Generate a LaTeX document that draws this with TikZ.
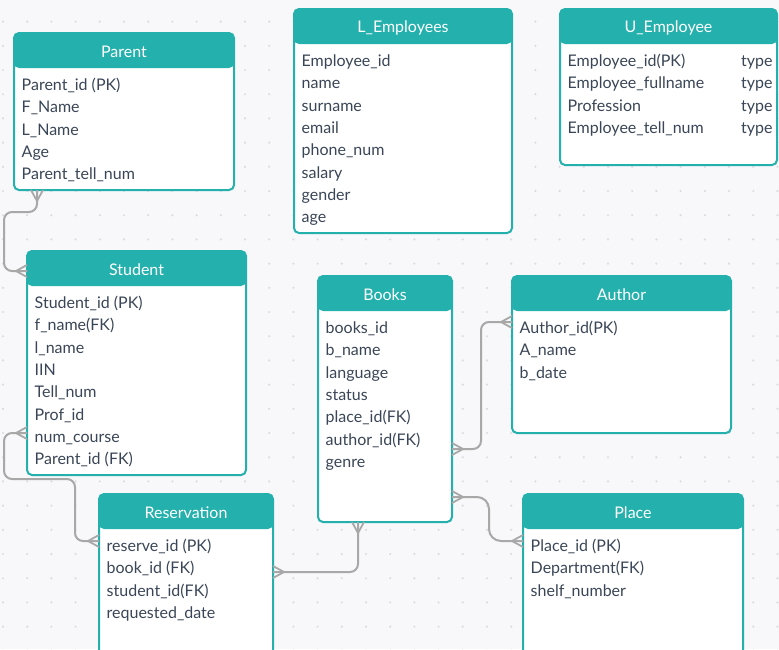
\documentclass[tikz,border=0pt]{standalone}
\usepackage{fontspec}
\setmainfont{Lato}
\usetikzlibrary{calc}
\definecolor{tealh}{HTML}{24B0AC}
\definecolor{bgc}{HTML}{F8F8FA}
\definecolor{dotc}{HTML}{DCDCE0}
\definecolor{txt}{HTML}{3A4657}
\definecolor{lnc}{HTML}{A8A8A8}
\tikzset{
 erbody/.style={draw=tealh, line width=2pt, fill=white, rounded corners=5pt, inner sep=0pt, outer sep=0pt, anchor=north west,
   path picture={\fill[tealh] (path picture bounding box.north west) rectangle ($(path picture bounding box.north east)+(0,35)$);}},
 ertitle/.style={text=white, font=\fontsize{16}{19}\selectfont, inner sep=0pt},
 errow/.style={text=txt, font=\fontsize{16}{19}\selectfont, inner sep=0pt, anchor=base west},
 conn/.style={draw=lnc, line width=2pt, rounded corners=8pt},
 crowline/.style={draw=lnc, line width=1.8pt},
 crow/.pic={\draw[crowline] (-11,0) -- (0,-6) (-11,0) -- (0,0) (-11,0) -- (0,6);}
}
\newcommand{\erbox}[7]{%
  \node[erbody, minimum width=#4pt, minimum height=#5pt] (#1) at (#2,#3) {};
  \node[ertitle] (#1-title) at ($(#1.north)+(0,18.5)$) {#6};
  \foreach \t [count=\i] in {#7}
    \node[errow] (#1-\i) at ($(#1.north west)+(7.5,57.5+22.3*\i-22.3)$) {\t};
}
\begin{document}
\begin{tikzpicture}[x=1pt,y=-1pt]
\useasboundingbox (0,0) rectangle (779,649);
\fill[bgc] (0,0) rectangle (779,649);
\foreach \i in {0,...,32} \foreach \j in {0,...,26}
  \fill[dotc] (3+24.2*\i, 21.6+24.2*\j) circle (1.2pt);

\erbox{parent}{14}{33}{220}{157}{Parent}{Parent\_id (PK),F\_Name,L\_Name,Age,Parent\_tell\_num}
\erbox{lemp}{294}{9}{218}{224}{L\_Employees}{Employee\_id,name,surname,email,phone\_num,salary,gender,age}
\erbox{uemp}{560}{9}{217}{156}{U\_Employee}{Employee\_id(PK),Employee\_fullname,Profession,Employee\_tell\_num}
\foreach \i in {1,...,4}
  \node[errow] (uemp-type\i) at ($(uemp.north west)+(181,57.5+22.3*\i-22.3)$) {type};
\erbox{student}{27}{251}{219}{224}{Student}{Student\_id (PK),f\_name(FK),l\_name,IIN,Tell\_num,Prof\_id,num\_course,Parent\_id (FK)}
\erbox{books}{318}{276}{134}{246}{Books}{books\_id,b\_name,language,status,place\_id(FK),author\_id(FK),genre}
\erbox{author}{512}{276}{219}{157}{Author}{Author\_id(PK),A\_name,b\_date}
\erbox{reserv}{99}{494}{174}{170}{Reservation}{reserve\_id (PK),book\_id (FK),student\_id(FK),requested\_date}
\erbox{place}{523}{494}{220}{170}{Place}{Place\_id (PK),Department(FK),shelf\_number}

% connector end points
\coordinate (p1) at ($(parent.south west)+(23,0)$);
\coordinate (s1) at ($(student.north west)+(0,20)$);
\coordinate (s2) at ($(student.north west)+(0,182)$);
\coordinate (r1) at ($(reserv.north west)+(0,47)$);
\coordinate (r2) at ($(reserv.north east)+(0,78)$);
\coordinate (b1) at ($(books.south west)+(40,0)$);
\coordinate (b2) at ($(books.north east)+(0,173)$);
\coordinate (a1) at ($(author.north west)+(0,46)$);
\coordinate (b3) at ($(books.north east)+(0,221)$);
\coordinate (pl1) at ($(place.north west)+(0,47)$);

\draw[conn] (p1) -- ++(0,22) -| ($(s1)+(-23,0)$) -- (s1);
\draw[conn] (s2) -- ++(-23,0) |- ($(r1)+(-24,-62)$) -- ($(r1)+(-24,0)$) -- (r1);
\draw[conn] (r2) -| (b1);
\draw[conn] (b2) -- ++(29,0) |- (a1);
\draw[conn, rounded corners=12pt] (b3) -- ++(37,0) |- (pl1);

\pic[rotate=90] at (p1) {crow};
\pic at (s1) {crow};
\pic at (s2) {crow};
\pic at (r1) {crow};
\pic[rotate=180] at (r2) {crow};
\pic[rotate=90] at (b1) {crow};
\pic[rotate=180] at (b2) {crow};
\pic at (a1) {crow};
\pic[rotate=180] at (b3) {crow};
\pic at (pl1) {crow};
\end{tikzpicture}
\end{document}
